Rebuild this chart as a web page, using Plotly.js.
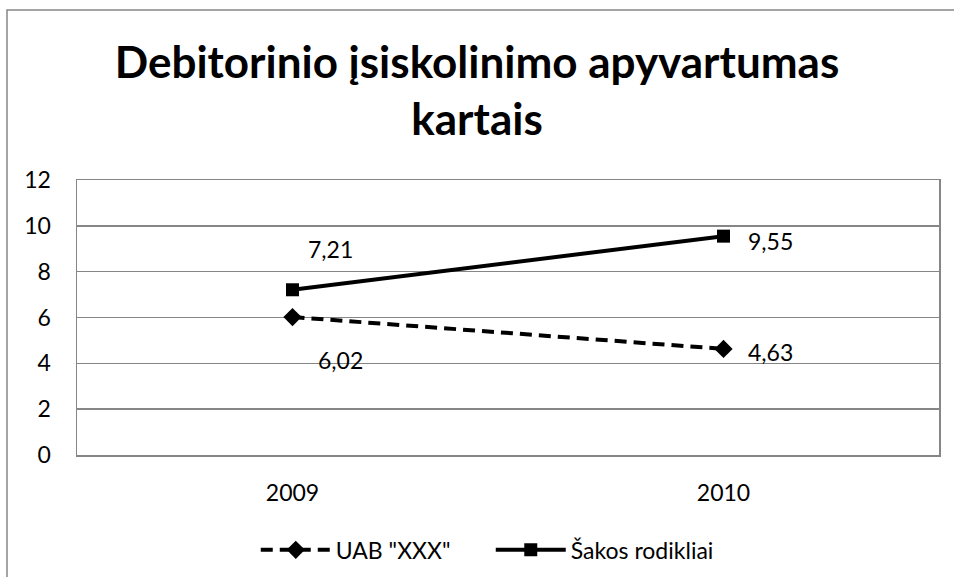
<!DOCTYPE html>
<html>
<head>
<meta charset="utf-8">
<script src="https://cdn.plot.ly/plotly-3.0.1.min.js"></script>
<style>html,body{margin:0;padding:0;background:#fff;}#chart{width:954px;height:577px;}</style>
</head>
<body>
<div id="chart"></div>
<script>
const categories = ["2009", "2010"];
const uabName = 'UAB "XXX"';
const uabValues = [6.02, 4.63];
const sakosName = "Šakos rodikliai";
const sakosValues = [7.21, 9.55];
const yTicks = [0, 2, 4, 6, 8, 10, 12];
const titleText = "Debitorinio įsiskolinimo apyvartumas<br>kartais";

const fmt = v => v.toFixed(2).replace(".", ",");
const FONT = "Lato, 'Open Sans', sans-serif";
const GRAY = "#868686";

const traces = [
  {
    x: categories, y: uabValues, name: uabName, type: "scatter", mode: "lines+markers",
    line: {color: "#000", width: 4, dash: "12px,7px"},
    marker: {symbol: "diamond", size: 14, color: "#000"}
  },
  {
    x: categories, y: sakosValues, name: sakosName, type: "scatter", mode: "lines+markers",
    line: {color: "#000", width: 4},
    marker: {symbol: "square", size: 13, color: "#000"}
  }
];

// label offsets (style only)
const uabShift = [[48, -43], [47, -3]];
const sakosShift = [[38, 41], [47, -5]];
const annotations = [];
categories.forEach((c, i) => {
  annotations.push({x: i, y: uabValues[i], xref: "x", yref: "y", text: fmt(uabValues[i]), showarrow: false,
    xshift: uabShift[i][0], yshift: uabShift[i][1], font: {family: FONT, size: 23, color: "#000"}});
  annotations.push({x: i, y: sakosValues[i], xref: "x", yref: "y", text: fmt(sakosValues[i]), showarrow: false,
    xshift: sakosShift[i][0], yshift: sakosShift[i][1], font: {family: FONT, size: 23, color: "#000"}});
});

const layout = {
  width: 954, height: 577,
  margin: {l: 77, r: 15, t: 180, b: 122, autoexpand: false},
  paper_bgcolor: "#fff", plot_bgcolor: "#fff",
  font: {family: FONT, size: 23, color: "#000"},
  title: {text: titleText, x: 0.5, xanchor: "center", xref: "container",
    y: 0.865, yref: "container", yanchor: "middle",
    font: {family: FONT, size: 44, color: "#000", weight: "bold"}},
  xaxis: {type: "category", range: [-0.5, 1.5], showgrid: false, zeroline: false,
    showline: true, linecolor: GRAY, linewidth: 1.5, mirror: true, ticks: "",
    ticklabelstandoff: 17, tickfont: {family: FONT, size: 23}},
  yaxis: {range: [0, 12], tickvals: yTicks, showgrid: true, gridcolor: GRAY, gridwidth: 1.5,
    zeroline: false, showline: true, linecolor: GRAY, linewidth: 1.5, mirror: true, ticks: "",
    ticklabelstandoff: 20, tickfont: {family: FONT, size: 23}},
  showlegend: true,
  legend: {orientation: "h", x: 0.48, xanchor: "center", y: -0.345, yanchor: "middle",
    font: {family: FONT, size: 23}, itemwidth: 70, entrywidth: 150, entrywidthmode: "pixels",
    traceorder: "normal"},
  annotations: annotations,
  shapes: [{type: "rect", xref: "paper", yref: "paper",
    x0: (7 - 77) / 862, x1: 1.2, y0: -0.6, y1: (455 - 10) / 275,
    line: {color: GRAY, width: 1.5}, layer: "below"}]
};

Plotly.newPlot("chart", traces, layout, {displayModeBar: false, staticPlot: true});
</script>
</body>
</html>
